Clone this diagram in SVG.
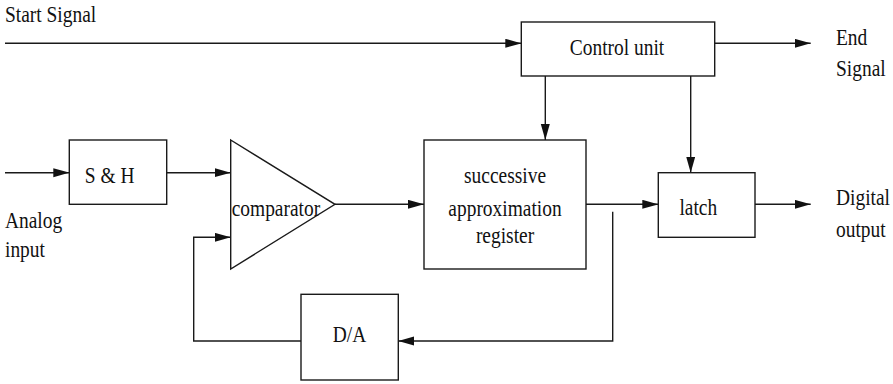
<svg xmlns="http://www.w3.org/2000/svg" width="893" height="384" viewBox="0 0 893 384">
<style>
.box{fill:#fff;stroke:#1a1a1a;stroke-width:1.4}
.ln{fill:none;stroke:#1a1a1a;stroke-width:1.4}
.t{font-size:24px;fill:#111}
</style>
<defs>
<marker id="ah" markerUnits="userSpaceOnUse" markerWidth="16" markerHeight="10" refX="16" refY="4.5" orient="auto">
<path d="M0,0 L16,4.5 L0,9 z" fill="#111"/>
</marker>
</defs>
<rect width="893" height="384" fill="#fff"/>
<g id="connectors">
<path class="ln" d="M5,43.3 H521.3" marker-end="url(#ah)"/>
<path class="ln" d="M714.7,43.3 H810.7" marker-end="url(#ah)"/>
<path class="ln" d="M545.3,76 V140" marker-end="url(#ah)"/>
<path class="ln" d="M690.7,76 V172.7" marker-end="url(#ah)"/>
<path class="ln" d="M5,172.7 H69.3" marker-end="url(#ah)"/>
<path class="ln" d="M166.7,172.7 H230.7" marker-end="url(#ah)"/>
<path class="ln" d="M335,204.3 H424" marker-end="url(#ah)"/>
<path class="ln" d="M586,204.3 H658.3" marker-end="url(#ah)"/>
<path class="ln" d="M755,204.3 H810.7" marker-end="url(#ah)"/>
<path class="ln" d="M612.7,211.7 V341 H398.3" marker-end="url(#ah)"/>
<path class="ln" d="M301,341 H193.7 V237.3 H230.7" marker-end="url(#ah)"/>
</g>
<g font-family="Liberation Serif, Tinos, Nimbus Roman, FreeSerif, Times, DejaVu Serif, serif">
<g id="labels">
<text class="t" transform="translate(5,22) scale(0.81,1)">Start Signal</text>
<text class="t" transform="translate(836,44.5) scale(0.81,1)">End</text>
<text class="t" transform="translate(836,75.5) scale(0.81,1)">Signal</text>
<text class="t" transform="translate(5,228.3) scale(0.81,1)">Analog</text>
<text class="t" transform="translate(5,257) scale(0.81,1)">input</text>
<text class="t" transform="translate(836,205) scale(0.81,1)">Digital</text>
<text class="t" transform="translate(836,236.7) scale(0.81,1)">output</text>
</g>
<g id="control-unit">
<rect class="box" x="521.3" y="22" width="193.4" height="54"/>
<text class="t" text-anchor="middle" transform="translate(617,55) scale(0.81,1)">Control unit</text>
</g>
<g id="sample-hold">
<rect class="box" x="69.3" y="140" width="97.4" height="64.3"/>
<text class="t" text-anchor="middle" transform="translate(109.6,182.7) scale(0.81,1)">S &amp; H</text>
</g>
<g id="comparator">
<path class="box" d="M230.7,140 L335,204.3 L230.7,269 Z"/>
<text class="t" transform="translate(231.7,216) scale(0.81,1)">comparator</text>
</g>
<g id="sar">
<rect class="box" x="424" y="140" width="162" height="129"/>
<text class="t" text-anchor="middle" transform="translate(505,183.3) scale(0.81,1)">successive</text>
<text class="t" text-anchor="middle" transform="translate(505,216) scale(0.81,1)">approximation</text>
<text class="t" text-anchor="middle" transform="translate(505,243.3) scale(0.81,1)">register</text>
</g>
<g id="latch">
<rect class="box" x="658.3" y="172.7" width="96.7" height="64.6"/>
<text class="t" text-anchor="middle" transform="translate(698.3,215) scale(0.81,1)">latch</text>
</g>
<g id="da">
<rect class="box" x="301" y="294.3" width="97.3" height="85.7"/>
<text class="t" text-anchor="middle" transform="translate(349.5,341.7) scale(0.81,1)">D/A</text>
</g>
</g>
</svg>
